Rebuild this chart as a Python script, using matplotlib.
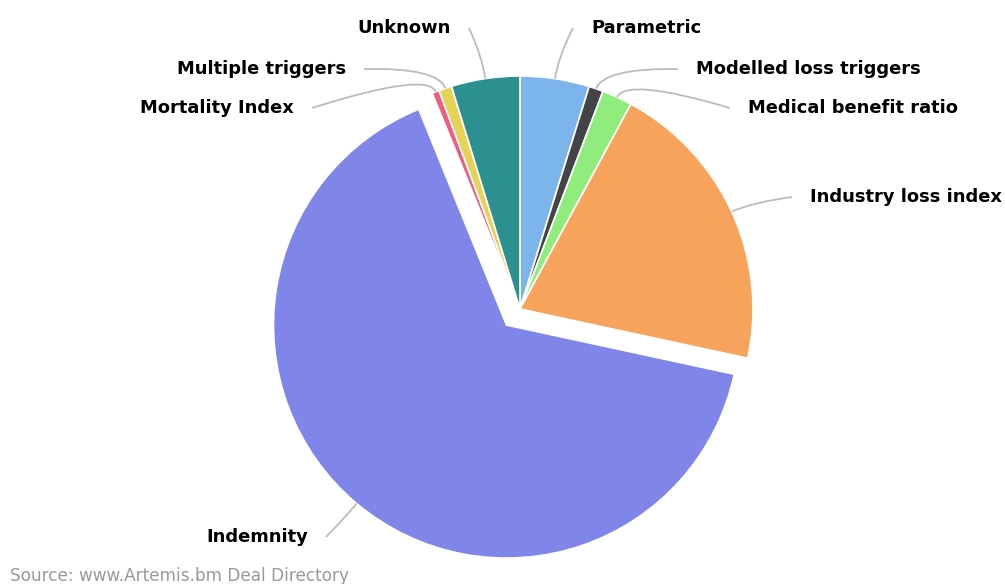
import numpy as np
import matplotlib
matplotlib.use("Agg")
import matplotlib.pyplot as plt
from matplotlib.path import Path
from matplotlib.patches import PathPatch

# share of deals by trigger type (%), clockwise from 12 o'clock
labels = ["Parametric", "Modelled loss triggers", "Medical benefit ratio",
          "Industry loss index", "Indemnity", "Mortality Index",
          "Multiple triggers", "Unknown"]
shares = [4.8, 1.0, 2.1, 20.5, 65.5, 0.5, 0.9, 4.75]
colors = ["#7cb5ec", "#434348", "#90ed7d", "#f7a35c",
          "#8085e9", "#f15c80", "#e4d354", "#2b908f"]
sliced = [0, 0, 0, 0, 1, 0, 0, 0]
source = "Source: www.Artemis.bm Deal Directory"

# layout in pixels (top-left origin) for the label text anchors
W, H = 1005, 584
label_pos = [(591, 28, "left"), (696, 69, "left"), (748, 108, "left"),
             (810, 197, "left"), (308, 537, "right"), (294, 108, "right"),
             (346, 69, "right"), (451, 28, "right")]
cx, cy, R = 520, H - 309, 233
offset = 21  # sliced-out distance in px

fig = plt.figure(figsize=(W / 100, H / 100), dpi=100)
ax = fig.add_axes([0, 0, 1, 1])

wedges, _ = ax.pie(shares, colors=colors, startangle=90, counterclock=False,
                   center=(cx, cy), radius=R,
                   explode=[s * offset for s in sliced],
                   wedgeprops=dict(edgecolor="white", linewidth=1.2))
# pie() resets limits, so set the pixel frame afterwards
ax.set_xlim(0, W)
ax.set_ylim(0, H)
ax.set_aspect("equal")
ax.axis("off")

for w, lab, (tx, ty, ha) in zip(wedges, labels, label_pos):
    mid = np.deg2rad((w.theta1 + w.theta2) / 2)
    wx, wy = w.center
    ex, ey = wx + R * np.cos(mid), wy + R * np.sin(mid)
    bx, by = wx + (R + 22) * np.cos(mid), wy + (R + 22) * np.sin(mid)
    ty = H - ty
    lx = tx - 18 if ha == "left" else tx + 18
    path = Path([(lx, ty), (bx, by), (ex, ey)],
                [Path.MOVETO, Path.CURVE3, Path.CURVE3])
    ax.add_patch(PathPatch(path, fill=False, edgecolor="#bbbbbb", linewidth=1.3))
    ax.text(tx, ty, lab, ha=ha, va="center", fontsize=12.9,
            fontweight="bold", color="black")

ax.text(10, H - 576, source, ha="left", va="center", fontsize=12.2, color="#999999")

fig.savefig("out.png", dpi=100)
